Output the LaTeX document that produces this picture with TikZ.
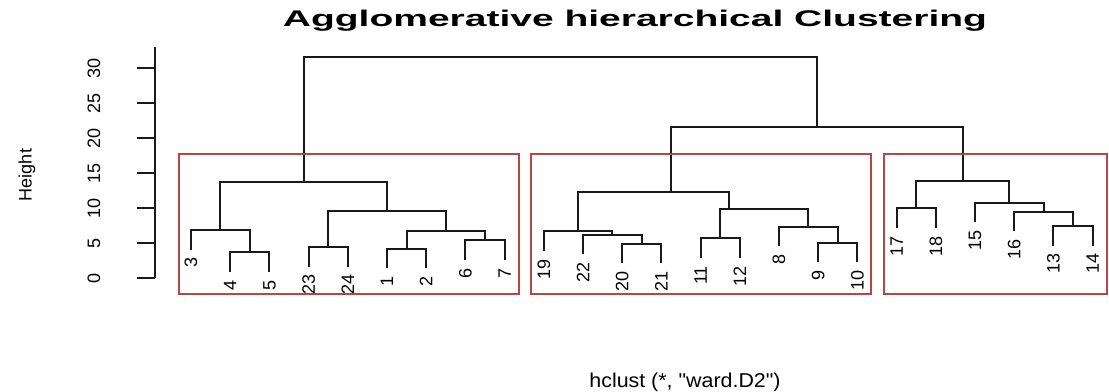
\documentclass[tikz,border=0pt]{standalone}
\usepackage{fontspec}
\setmainfont{Liberation Sans}
\definecolor{boxred}{RGB}{185,70,70}
\tikzset{
  den/.style={line width=1.4pt, black!90},
  clbox/.style={draw=boxred, line width=1.1pt},
  leaf/.style={rotate=90, anchor=east, inner sep=0pt, font=\fontsize{13.5}{15}\selectfont},
  ticklab/.style={rotate=90, anchor=center, inner sep=0pt, font=\fontsize{13.5}{15}\selectfont},
  tickmark/.style={line width=1.2pt, black!90},
}
\begin{document}
\begin{tikzpicture}[x=0.75pt,y=-0.75pt]
\useasboundingbox (0,0) rectangle (1109,392);
\fill[white] (0,0) rectangle (1109,392);

% title and axis titles
\node[font=\bfseries\fontsize{17}{20}\selectfont, xscale=1.72, anchor=base, inner sep=0pt] (title) at (635,27) {Agglomerative hierarchical Clustering};
\node[font=\fontsize{15}{18}\selectfont, xscale=1.07, anchor=base, inner sep=0pt] (sub) at (685,387) {hclust (*, \textquotedbl ward.D2\textquotedbl )};
\node[ticklab] (ylab) at (27,175) {Height};

% y axis
\coordinate (axtop) at (155,47);
\coordinate (axbot) at (155,278);
\draw[tickmark] (axtop) -- (axbot);
\foreach \v/\yy in {0/278,5/243,10/208,15/173,20/138,25/103,30/68}{
  \coordinate (t\v) at (155,\yy);
  \coordinate (tt\v) at (137,\yy);
  \draw[tickmark] (t\v) -- (tt\v);
  \node[ticklab] (tl\v) at (94,\yy) {\v};
}

% leaf ends
\coordinate (l3) at (191,249.7);
\coordinate (l4) at (230.2,272);
\coordinate (l5) at (269.4,272);
\coordinate (l23) at (308.6,266.7);
\coordinate (l24) at (347.8,266.7);
\coordinate (l1) at (387,268.4);
\coordinate (l2) at (426.2,268.4);
\coordinate (l6) at (465.4,260);
\coordinate (l7) at (504.6,260);
\coordinate (l19) at (543.8,251);
\coordinate (l22) at (583,254.4);
\coordinate (l20) at (622.2,263.4);
\coordinate (l21) at (661.4,263.4);
\coordinate (l11) at (700.6,258);
\coordinate (l12) at (739.8,258);
\coordinate (l8) at (779,246.4);
\coordinate (l9) at (818.2,262.4);
\coordinate (l10) at (857.4,262.4);
\coordinate (l17) at (896.6,228);
\coordinate (l18) at (935.8,228);
\coordinate (l15) at (975,222.4);
\coordinate (l16) at (1014.2,231.4);
\coordinate (l13) at (1053.4,245.7);
\coordinate (l14) at (1092.6,245.7);

% merge points
\coordinate (m45) at (249.8,252.3);
\coordinate (m345) at (220.4,230);
\coordinate (m2324) at (328.2,247);
\coordinate (m12) at (406.6,248.7);
\coordinate (m67) at (485,240.3);
\coordinate (m1267) at (445.8,231);
\coordinate (mr1) at (387,210.7);
\coordinate (c1) at (303.7,181.7);
\coordinate (m2021) at (641.8,243.7);
\coordinate (m22) at (612.4,234.7);
\coordinate (m19) at (578.1,231.3);
\coordinate (m1112) at (720.2,238.3);
\coordinate (m910) at (837.8,242.7);
\coordinate (m8) at (808.4,226.7);
\coordinate (mr2) at (729.1,209.3);
\coordinate (c2) at (671.2,192.3);
\coordinate (m1718) at (916.2,208.3);
\coordinate (m1314) at (1073,226);
\coordinate (m16) at (1043.6,211.7);
\coordinate (m15) at (1009.3,202.7);
\coordinate (c3) at (962.75,180.7);
\coordinate (c23) at (817,127);
\coordinate (root) at (560.3,57);

% dendrogram
\draw[den] (l4) |- (m45) -| (l5);
\draw[den] (l3) |- (m345) -| (m45);
\draw[den] (l23) |- (m2324) -| (l24);
\draw[den] (l1) |- (m12) -| (l2);
\draw[den] (l6) |- (m67) -| (l7);
\draw[den] (m12) |- (m1267) -| (m67);
\draw[den] (m2324) |- (mr1) -| (m1267);
\draw[den] (m345) |- (c1) -| (mr1);
\draw[den] (l20) |- (m2021) -| (l21);
\draw[den] (l22) |- (m22) -| (m2021);
\draw[den] (l19) |- (m19) -| (m22);
\draw[den] (l11) |- (m1112) -| (l12);
\draw[den] (l9) |- (m910) -| (l10);
\draw[den] (l8) |- (m8) -| (m910);
\draw[den] (m1112) |- (mr2) -| (m8);
\draw[den] (m19) |- (c2) -| (mr2);
\draw[den] (l17) |- (m1718) -| (l18);
\draw[den] (l13) |- (m1314) -| (l14);
\draw[den] (l16) |- (m16) -| (m1314);
\draw[den] (l15) |- (m15) -| (m16);
\draw[den] (m1718) |- (c3) -| (m15);
\draw[den] (c2) |- (c23) -| (c3);
\draw[den] (c1) |- (root) -| (c23);

% leaf labels
\foreach \k in {3,4,5,23,24,1,2,6,7,19,22,20,21,11,12,8,9,10,17,18,15,16,13,14}{
  \path (l\k) ++(0,8) node[leaf] (L\k) {\k};
}

% cluster rectangles
\draw[clbox] (179,154) rectangle (519,294);
\draw[clbox] (531,154) rectangle (871,294);
\draw[clbox] (884,154) rectangle (1107,294);
\end{tikzpicture}
\end{document}
